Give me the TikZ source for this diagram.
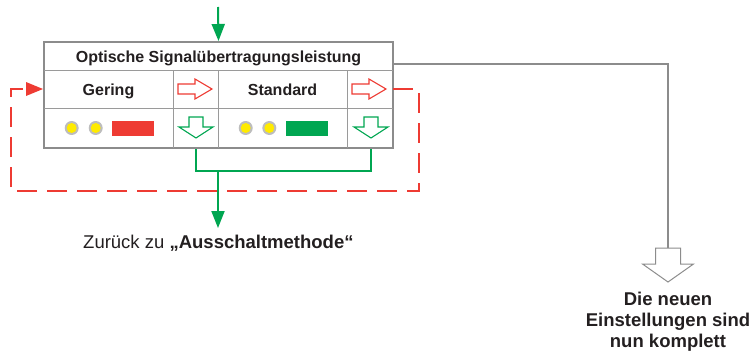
\documentclass[tikz,border=0pt]{standalone}
\usepackage{fontspec}
\setmainfont{Liberation Sans}
\usetikzlibrary{arrows.meta}
\definecolor{rd}{HTML}{EE3B33}
\definecolor{gn}{HTML}{00A651}
\definecolor{gy}{HTML}{8C8C8C}
\definecolor{gyl}{HTML}{9A9A9A}
\definecolor{yl}{HTML}{FFEB00}
\definecolor{ring}{HTML}{BDBDBD}
\definecolor{txt}{HTML}{231F20}
\begin{document}
\begin{tikzpicture}[x=1pt,y=-1pt,
  gline/.style={draw=gn,line width=2pt},
  rdash/.style={draw=rd,line width=2pt,dash pattern=on 20pt off 10pt},
  gyline/.style={draw=gy,line width=2pt},
  cellline/.style={draw=gyl,line width=1pt},
  tabtext/.style={font=\fontsize{16}{19}\selectfont\bfseries,inner sep=0pt,text=txt,anchor=base},
  bigtext/.style={font=\fontsize{18.5}{21}\selectfont\bfseries,inner sep=0pt,text=txt,align=center},
  pics/redright/.style={code={
    \draw[rd,fill=white,line width=1.1pt,line join=miter] (0,-5) -- (17,-5) -- (17,-10) -- (34,0) -- (17,10) -- (17,5) -- (0,5) -- cycle;}},
  pics/greendown/.style={code={
    \draw[gn,fill=white,line width=1.1pt,line join=miter] (-7,-21) -- (7,-21) -- (7,-11) -- (17,-11) -- (0,0) -- (-17,-11) -- (-7,-11) -- cycle;}},
  pics/lamp/.style={code={
    \fill[ring] (0,0) circle (7);
    \fill[yl] (0,0) circle (5);}}
]
\useasboundingbox (0,0) rectangle (754,353);

% table
\node[draw=gy,line width=2pt,minimum width=349pt,minimum height=106pt,inner sep=0pt] (tbl) at (218.5,95) {};
\draw[cellline] (44,70) -- (393,70);
\draw[cellline] (44,108) -- (393,108);
\draw[cellline] (173,70) -- (173,148);
\draw[cellline] (218,70) -- (218,148);
\draw[cellline] (347,70) -- (347,148);

\node[tabtext] (head) at (218.5,62.5) {Optische Signalübertragungsleistung};
\node[tabtext] (gering) at (108.5,95.5) {Gering};
\node[tabtext] (standard) at (282.5,95.5) {Standard};

\pic at (178,89) {redright};
\pic at (352,89) {redright};
\pic at (196,138) {greendown};
\pic at (371,138) {greendown};

\pic at (71.7,128) {lamp};
\pic at (95.7,128) {lamp};
\fill[rd] (112,121) rectangle (154,135.7);
\pic at (245.7,128) {lamp};
\pic at (269.3,128) {lamp};
\fill[gn] (286,121) rectangle (328,135.7);

% coordinates
\coordinate (in) at (218,7);
\coordinate (b1) at (196,149);
\coordinate (b2) at (371,149);
\coordinate (bj) at (218,171);
\coordinate (out) at (218,228);
\coordinate (r0) at (393,89);
\coordinate (r1) at (419,89);
\coordinate (r2) at (419,191);
\coordinate (r3) at (11,191);
\coordinate (r4) at (11,89);
\coordinate (g0) at (394,64);
\coordinate (g1) at (668,64);
\coordinate (gtop) at (668,248);

% green connectors
\draw[gline,-{Triangle[length=17pt,width=13pt]}] (in) -- (tbl.north);
\draw[gline] (b1) -- (196,171) -- (371,171) -- (b2);
\draw[gline,-{Triangle[length=17pt,width=13pt]}] (bj) -- (out);

% red dashed loop
\draw[rdash] (r0) -- (r1) -- (r2) -- (r3) -- (r4) -- (26,89);
\draw[draw=none,fill=rd] (tbl.west |- r4) -- ++(-17,-7) -- ++(0,14) -- cycle;

% gray connector and big arrow
\draw[gyline] (g0) -- (g1) -- (gtop);
\draw[gy,fill=white,line width=1pt] (gtop) ++(-12.5,0) -- ++(25,0) -- ++(0,16) -- ++(13,0) -- (668,282) -- (642.5,264) -- ++(13,0) -- cycle;

% texts
\node[font=\fontsize{18.5}{21}\selectfont,inner sep=0pt,anchor=base west,text=txt] (back) at (83,248) {Zurück zu \textbf{„Ausschaltmethode“}};
\node[bigtext,anchor=base] (done) at (668,347) {Die neuen\\Einstellungen sind\\nun komplett};
\end{tikzpicture}
\end{document}
